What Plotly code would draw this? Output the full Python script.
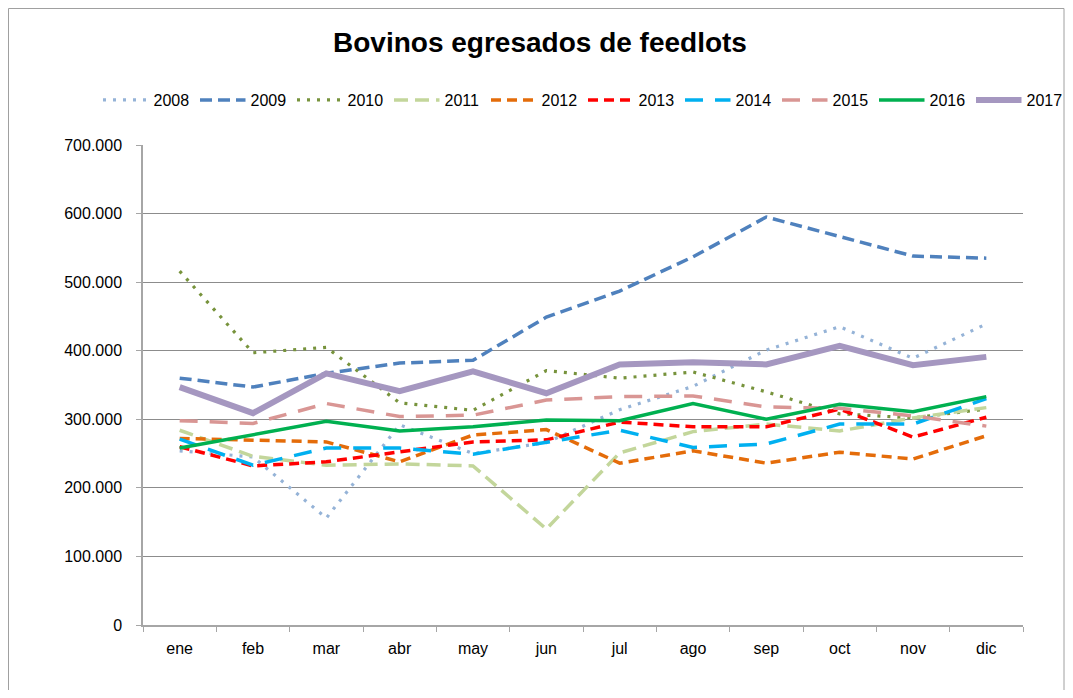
import plotly.graph_objects as go

months = ["ene", "feb", "mar", "abr", "may", "jun", "jul", "ago", "sep", "oct", "nov", "dic"]

y2008 = [254000, 245000, 156000, 292000, 250000, 266000, 314000, 348000, 401000, 435000, 389000, 439000]
y2009 = [360000, 347000, 367000, 382000, 386000, 449000, 487000, 537000, 595000, 566000, 538000, 535000]
y2010 = [516000, 397000, 405000, 324000, 313000, 371000, 360000, 369000, 340000, 308000, 302000, 315000]
y2011 = [284000, 246000, 233000, 235000, 232000, 140000, 251000, 282000, 293000, 283000, 302000, 317000]
y2012 = [272000, 270000, 267000, 238000, 277000, 285000, 236000, 254000, 236000, 252000, 242000, 276000]
y2013 = [260000, 232000, 238000, 252000, 267000, 270000, 296000, 289000, 289000, 315000, 274000, 303000]
y2014 = [271000, 233000, 258000, 258000, 249000, 266000, 284000, 259000, 264000, 293000, 293000, 330000]
y2015 = [298000, 294000, 323000, 304000, 306000, 328000, 333000, 334000, 318000, 316000, 305000, 290000]
y2016 = [258000, 277000, 297000, 283000, 289000, 299000, 298000, 323000, 300000, 322000, 311000, 333000]
y2017 = [347000, 309000, 367000, 341000, 370000, 338000, 380000, 383000, 380000, 407000, 379000, 391000]

series = [
    ("2008", y2008, "#95B3D7", 3.2, "3px,7px"),
    ("2009", y2009, "#4F81BD", 3.5, "12px,6px"),
    ("2010", y2010, "#77933C", 3.2, "3px,7px"),
    ("2011", y2011, "#C3D69B", 3.5, "14px,7px"),
    ("2012", y2012, "#E46C0A", 3.5, "10px,6px"),
    ("2013", y2013, "#FF0000", 3.5, "10px,6px"),
    ("2014", y2014, "#00B0F0", 3.5, "18px,12px"),
    ("2015", y2015, "#D99694", 3.5, "18px,12px"),
    ("2016", y2016, "#00B050", 3.5, "solid"),
    ("2017", y2017, "#A597C0", 6, "solid"),
]

fig = go.Figure()
for name, ys, color, w, dash in series:
    fig.add_trace(go.Scatter(
        x=months, y=ys, name=name, mode="lines",
        line=dict(color=color, width=w, dash=dash),
    ))

OFF = 8  # page body margin
L, R, T, B = 143 - OFF, 1023 - OFF, 145 - OFF, 625 - OFF
W, H = 1057, 682
pw, ph = R - L, B - T


def px(x):
    return (x - OFF - L) / pw


def py(y):
    return (B - (y - OFF)) / ph


# outer chart border (top, left, right sides), in paper units
bx0, bx1 = (0.5 - L) / pw, (W - 1 - L) / pw
by0, by1 = (B - H) / ph, (B - 0.5) / ph
border_path = f"M {bx0} {by0} L {bx0} {by1} L {bx1} {by1} L {bx1} {by0}"

fig.update_layout(
    width=W, height=H,
    margin=dict(l=L, r=W - R, t=T, b=H - B, autoexpand=False),
    paper_bgcolor="white", plot_bgcolor="white",
    separators=",.",
    font=dict(family="Liberation Sans, Arial, sans-serif", size=16, color="#000000"),
    title=dict(
        text="<b>Bovinos egresados de feedlots</b>",
        x=(540 - OFF) / W, xref="container", xanchor="center",
        y=1 - (42 - OFF) / H, yref="container", yanchor="middle",
        font=dict(family="Liberation Sans Narrow, Arial Narrow, Liberation Sans, sans-serif", size=28, color="#000000"),
    ),
    legend=dict(
        orientation="h", x=px(98), xanchor="left", y=py(100), yanchor="middle",
        font=dict(size=16), entrywidth=36.5, entrywidthmode="pixels",
        itemwidth=45.5, bgcolor="rgba(0,0,0,0)", tracegroupgap=0,
    ),
    showlegend=True,
    xaxis=dict(
        showline=True, linecolor="#A6A6A6", linewidth=1.5,
        ticks="outside", tickcolor="#A6A6A6", ticklen=5, tickson="boundaries",
        showgrid=False, tickfont=dict(size=16), range=[-0.5, 11.5],
        ticklabelstandoff=8,
    ),
    yaxis=dict(
        range=[0, 700000], dtick=100000, tickformat=",d",
        showline=True, linecolor="#A6A6A6", linewidth=1.5,
        ticks="outside", tickcolor="#A6A6A6", ticklen=5,
        showgrid=True, gridcolor="#8C8C8C", gridwidth=1,
        zeroline=False, tickfont=dict(size=16), ticklabelstandoff=11,
    ),
    shapes=[dict(
        type="path", xref="paper", yref="paper", path=border_path,
        line=dict(color="#A0A0A0", width=1), layer="below",
    )],
)

fig.write_html("out.html")
